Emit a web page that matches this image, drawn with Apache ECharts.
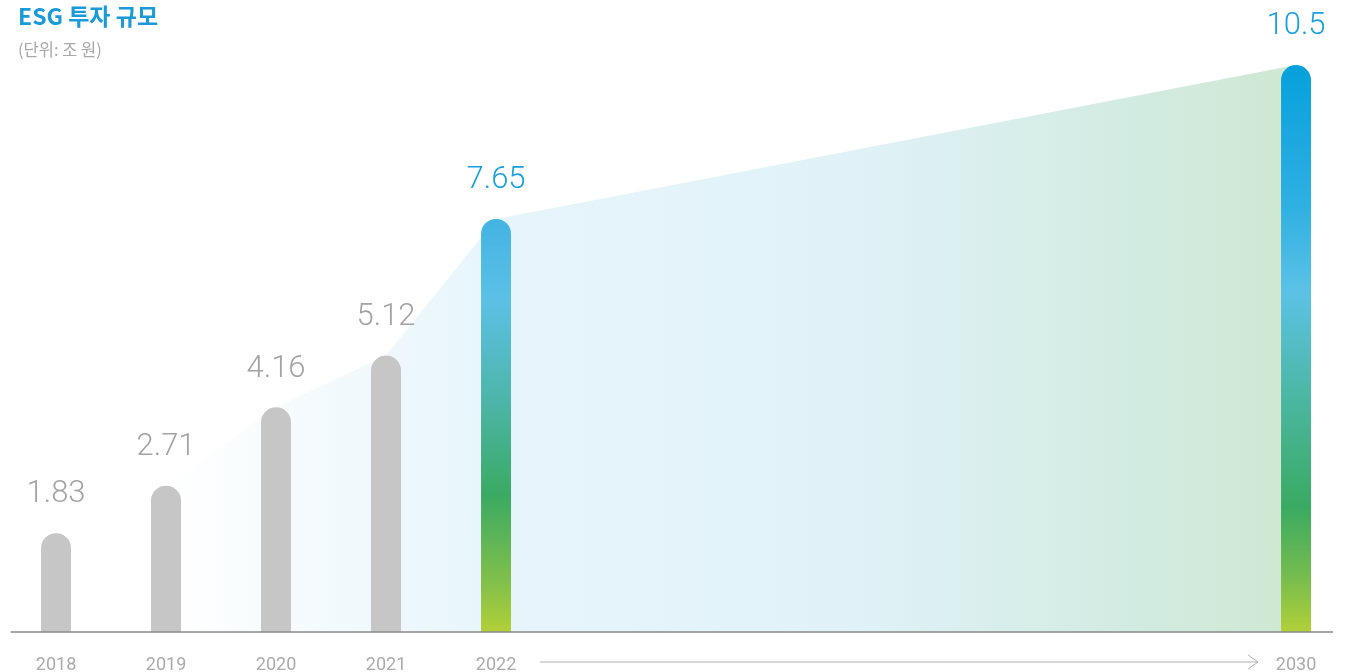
<!DOCTYPE html>
<html>
<head>
<meta charset="utf-8">
<script src="https://cdn.jsdelivr.net/npm/echarts@6.0.0/dist/echarts.min.js"></script>
<style>
html,body{margin:0;padding:0;background:#fff;}
#chart{width:1363px;height:672px;}
</style>
</head>
<body>
<div id="chart"></div>
<script>
// ---- data ----
const years = [2018, 2019, 2020, 2021, 2022, 2030];
const values = [1.83, 2.71, 4.16, 5.12, 7.65, 10.5];
const highlightYears = [2022, 2030];
const areaYears = [2019, 2020, 2021, 2022, 2030];
const areaValues = [2.71, 4.16, 5.12, 7.65, 10.5];
const titleText = 'ESG 투자 규모';
const unitText = '(단위: 조 원)';

// ---- styles ----
const grayBar = '#c6c6c6';
const grayLabel = '#a3a3a3';
const blueLabel = '#1aa0dc';
const grad2022 = new echarts.graphic.LinearGradient(0, 0, 0, 1, [
  {offset: 0, color: '#43b4e3'},
  {offset: 0.2, color: '#5cc0e5'},
  {offset: 0.45, color: '#4cb5a6'},
  {offset: 0.67, color: '#3aaa62'},
  {offset: 0.88, color: '#82c04a'},
  {offset: 1, color: '#b2d038'}
]);
const grad2030 = new echarts.graphic.LinearGradient(0, 0, 0, 1, [
  {offset: 0, color: '#06a0dc'},
  {offset: 0.25, color: '#2fb0e2'},
  {offset: 0.4, color: '#5bc2e6'},
  {offset: 0.57, color: '#4db8a8'},
  {offset: 0.78, color: '#3aaa62'},
  {offset: 0.9, color: '#74bc4e'},
  {offset: 1, color: '#b2d038'}
]);
const areaGrad = new echarts.graphic.LinearGradient(0, 0, 1, 0, [
  {offset: 0, color: 'rgba(255,255,255,1)'},
  {offset: 0.29, color: '#e7f5fb'},
  {offset: 0.6, color: '#e0f2f8'},
  {offset: 0.86, color: '#d2ebe1'},
  {offset: 1, color: '#cfe8d2'}
]);

const chart = echarts.init(document.getElementById('chart'));

const barData = years.map((y, i) => {
  const hl = highlightYears.indexOf(y) >= 0;
  return {
    value: [y, values[i]],
    itemStyle: {color: hl ? (y === 2030 ? grad2030 : grad2022) : grayBar},
    label: {color: hl ? blueLabel : grayLabel}
  };
});

const option = {
  animation: false,
  title: {
    text: titleText,
    subtext: unitText,
    left: 18,
    top: 5,
    padding: 0,
    itemGap: 13,
    textStyle: {fontFamily: 'Noto Sans CJK KR', fontSize: 23, fontWeight: 'bold', color: '#1a9ad6'},
    subtextStyle: {fontFamily: 'Noto Sans CJK KR', fontSize: 16.5, color: '#a8a8a8'}
  },
  grid: {left: 10.7, right: 30, top: 38, bottom: 40, containLabel: false, outerBoundsMode: 'none'},
  xAxis: {
    type: 'value',
    min: 2017.588,
    max: 2030.336,
    breaks: [{start: 2022.5, end: 2029.5, gap: 6.2727}],
    breakArea: {show: false},
    axisLine: {show: false},
    axisTick: {show: false},
    splitLine: {show: false},
    axisLabel: {
      customValues: years,
      formatter: v => String(v),
      color: '#ababab',
      fontSize: 18,
      fontFamily: 'Roboto',
      margin: 24
    }
  },
  yAxis: {
    type: 'value', min: 0, max: 11, show: false, splitLine: {show: false}
  },
  series: [
    {
      type: 'line',
      data: areaYears.map((y, i) => [y, areaValues[i]]),
      symbol: 'none',
      silent: true,
      z: 1,
      lineStyle: {width: 0},
      areaStyle: {color: areaGrad, opacity: 1}
    },
    {
      type: 'bar',
      data: barData,
      barWidth: 30,
      z: 3,
      itemStyle: {borderRadius: [15, 15, 0, 0]},
      label: {
        show: true,
        position: 'top',
        distance: 23,
        fontSize: 31,
        fontFamily: 'Roboto',
        fontWeight: 300,
        formatter: p => String(p.value[1])
      },
      markLine: {
        silent: true,
        symbol: 'none',
        z: 5,
        label: {show: false},
        lineStyle: {color: '#8a8a8a', width: 1.5, type: 'solid'},
        emphasis: {disabled: true},
        data: [{yAxis: 0}]
      }
    }
  ]
};
chart.setOption(option);

// arrow between the 2022 and 2030 axis labels
const p1 = chart.convertToPixel({gridIndex: 0}, [2022, 0]);
const p2 = chart.convertToPixel({gridIndex: 0}, [2030, 0]);
const ay = p1[1] + 30;
const x1 = p1[0] + 44, x2 = p2[0] - 38;
chart.setOption({
  graphic: [
    {type: 'line', shape: {x1: x1, y1: ay, x2: x2, y2: ay}, style: {stroke: '#b0b0b0', lineWidth: 1}, silent: true},
    {type: 'polyline', shape: {points: [[x2 - 10, ay - 7], [x2, ay], [x2 - 10, ay + 7]]}, style: {stroke: '#b0b0b0', lineWidth: 1, fill: null}, silent: true}
  ]
});
</script>
</body>
</html>
